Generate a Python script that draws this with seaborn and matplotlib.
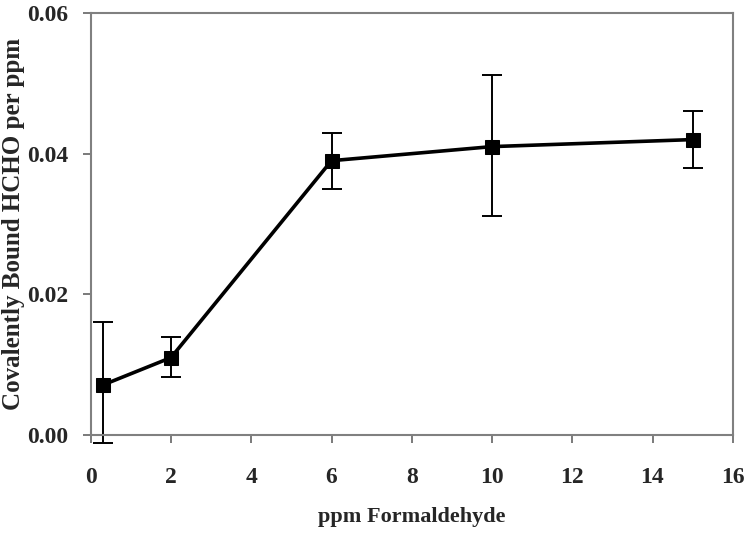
import numpy as np
import pandas as pd
import matplotlib
matplotlib.use("Agg")
import matplotlib.pyplot as plt
import seaborn as sns

# veri
ppm = [0.3, 2, 6, 10, 15]
bound = [0.0071, 0.0110, 0.0390, 0.0410, 0.0420]
err_low = [0.0082, 0.0028, 0.0040, 0.0099, 0.0040]
err_high = [0.0089, 0.0030, 0.0040, 0.0102, 0.0040]

x_ticks = [0, 2, 4, 6, 8, 10, 12, 14, 16]
y_ticks = [0.00, 0.02, 0.04, 0.06]

df = pd.DataFrame({"ppm": ppm, "bound": bound})

sns.set_style("white")
plt.rcParams['font.family'] = ['Liberation Serif', 'DejaVu Serif']
plt.rcParams['font.weight'] = 'bold'

fig = plt.figure(figsize=(7.5, 5.41), dpi=100)
ax = fig.add_axes([0.121, 0.196, 0.856, 0.780])

eb = ax.errorbar(df["ppm"], df["bound"], yerr=[err_low, err_high], fmt='none',
                 ecolor='black', elinewidth=1.4, capsize=7, capthick=1.4, zorder=2)
for art in eb.lines[1] + eb.lines[2]:
    art.set_clip_on(False)
sns.lineplot(data=df, x="ppm", y="bound", ax=ax, color='black', linewidth=2.6,
             marker='s', markersize=10, markeredgecolor='black', zorder=3)

ax.set_xlim(0, 16)
ax.set_ylim(0, 0.06)
ax.set_xticks(x_ticks)
ax.set_yticks(y_ticks)
ax.set_xticklabels([str(t) for t in x_ticks], fontsize=17, fontweight='bold')
ax.set_yticklabels([f"{t:.2f}" for t in y_ticks], fontsize=17, fontweight='bold')
ax.tick_params(axis='both', direction='out', length=6, width=1.3, color='#707070',
               left=True, bottom=True)
ax.tick_params(axis='x', pad=17)
ax.tick_params(axis='y', pad=10)

for s in ax.spines.values():
    s.set_color('#808080')
    s.set_linewidth(1.5)
    s.set_visible(True)

ax.set_xlabel("ppm Formaldehyde", fontsize=16, fontweight='bold', labelpad=14)
ax.set_ylabel("Covalently Bound HCHO per ppm", fontsize=18, fontweight='bold')
ax.yaxis.set_label_coords(-0.103, 0.5)

fig.savefig("out.png", dpi=100)
